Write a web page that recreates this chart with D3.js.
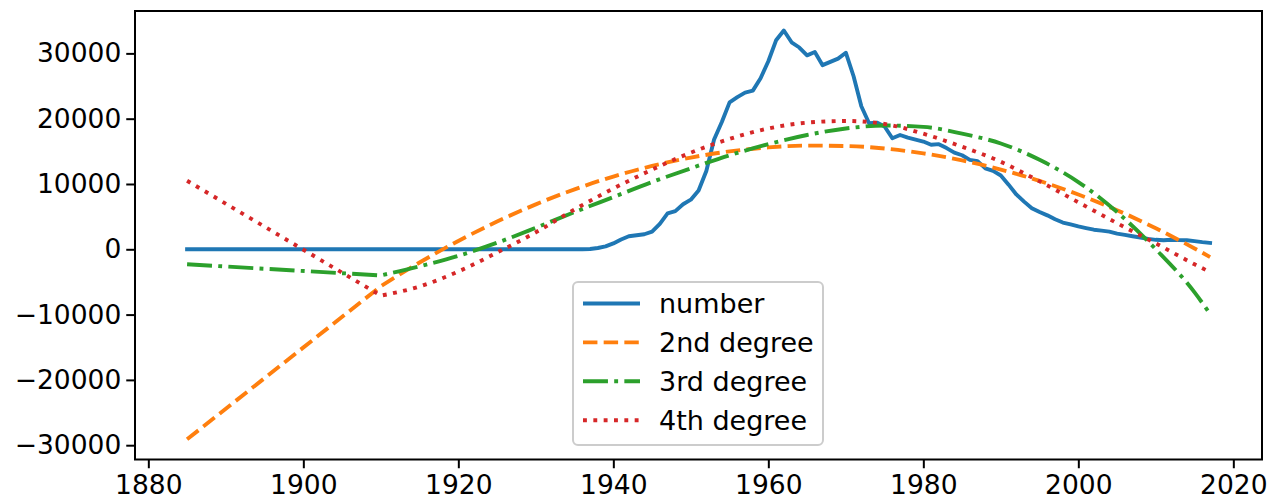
<!DOCTYPE html>
<html>
<head>
<meta charset="utf-8">
<script src="https://cdn.jsdelivr.net/npm/d3@7"></script>
<style>
  html, body { margin: 0; padding: 0; background: #ffffff; }
  svg { display: block; }
</style>
</head>
<body>
<svg id="chart" width="1273" height="503"></svg>
<script>
// ---------------- data ----------------
const numberYears = [1885, 1910, 1915, 1920, 1925, 1930,
  1935, 1936, 1937, 1938, 1939, 1940, 1941, 1942, 1943, 1944, 1945, 1946, 1947, 1948, 1949,
  1950, 1951, 1952, 1953, 1954, 1955, 1956, 1957, 1958, 1959, 1960, 1961, 1962, 1963, 1964,
  1965, 1966, 1967, 1968, 1969, 1970, 1971, 1972, 1973, 1974, 1975, 1976, 1977, 1978, 1979,
  1980, 1981, 1982, 1983, 1984, 1985, 1986, 1987, 1988, 1989, 1990, 1991, 1992, 1993, 1994,
  1995, 1996, 1997, 1998, 1999, 2000, 2001, 2002, 2003, 2004, 2005, 2006, 2007, 2008, 2009,
  2010, 2011, 2012, 2013, 2014, 2015, 2016, 2017];
const numberValues = [0, 0, 0, 0, 0, 0,
  0, 0, 50, 200, 450, 900, 1500, 2000, 2150, 2300, 2700, 3900, 5500, 5850, 6900,
  7600, 9000, 12000, 16800, 19500, 22500, 23300, 24000, 24300, 26200, 28800, 32000, 33500, 31700, 30900,
  29700, 30200, 28200, 28700, 29200, 30100, 26500, 21900, 19300, 19400, 18800, 17000, 17500, 17100, 16800,
  16500, 16000, 16100, 15500, 14800, 14400, 13700, 13500, 12400, 12000, 11300, 9900, 8400, 7300, 6300,
  5700, 5200, 4600, 4100, 3800, 3500, 3250, 3000, 2850, 2700, 2400, 2200, 2000, 1800, 1600,
  1450, 1380, 1450, 1400, 1380, 1250, 1100, 980];

const fitYears = [1885, 1910, 1915, 1920, 1925, 1930, 1935, 1940, 1945, 1950, 1955, 1960,
  1965, 1970, 1975, 1980, 1985, 1990, 1995, 2000, 2005, 2010, 2015, 2017];
const deg2Values = [-29100, -5660, -2020, 1280, 4250, 6880, 9180, 11140, 12760, 14050, 14990, 15610,
  15880, 15820, 15430, 14690, 13620, 12210, 10470, 8390, 5980, 3220, 130, -1200];
const deg3Values = [-2300, -4000, -2600, -1000, 1000, 3300, 5700, 8000, 10300, 12400, 14400, 16100,
  17500, 18500, 18950, 18750, 17700, 16200, 13700, 10300, 5700, 0, -6600, -9900];
const deg4Values = [10500, -7100, -5700, -3400, -500, 2600, 6100, 9300, 12200, 14800, 16900, 18500,
  19400, 19650, 19200, 17700, 15700, 13400, 10400, 7200, 4000, 900, -2300, -3500];

const seriesNames = ["number", "2nd degree", "3rd degree", "4th degree"];
const seriesColors = ["#1f77b4", "#ff7f0e", "#2ca02c", "#d62728"];

const xTicks = [1880, 1900, 1920, 1940, 1960, 1980, 2000, 2020];
const yTicks = [-30000, -20000, -10000, 0, 10000, 20000, 30000];

// ---------------- layout ----------------
const LW = 3.9;
const dashes = ["none", `${3.7*LW},${1.6*LW}`, `${6.4*LW},${1.6*LW},${1*LW},${1.6*LW}`, `${1*LW},${1.65*LW}`];
const plot = { left: 135, right: 1262, top: 11, bottom: 459.5 };
const FONT = "DejaVu Sans, Verdana, sans-serif";
const FS = 26.5;
const LFS = 27;

const svg = d3.select("#chart");

const x = d3.scaleLinear().domain([1878.28, 2023.7]).range([plot.left, plot.right]);
const y = d3.scaleLinear().domain([-32190, 36490]).range([plot.bottom, plot.top]);

const fmt = v => (v < 0 ? "\u2212" + Math.abs(v) : String(v));

// series
const seriesData = [
  numberYears.map((yr, i) => [yr, numberValues[i]]),
  fitYears.map((yr, i) => [yr, deg2Values[i]]),
  fitYears.map((yr, i) => [yr, deg3Values[i]]),
  fitYears.map((yr, i) => [yr, deg4Values[i]])
];

const linearLine = d3.line().x(d => x(d[0])).y(d => y(d[1]));
const smoothLine = d3.line().x(d => x(d[0])).y(d => y(d[1])).curve(d3.curveMonotoneX);

function pathFor(data, idx) {
  if (idx === 0) return linearLine(data);
  // first segment (gap in the data) is straight, the rest is the smooth fit
  const first = linearLine(data.slice(0, 2));
  const rest = smoothLine(data.slice(1));
  return first + "L" + rest.substring(1);
}

svg.append("clipPath").attr("id", "plotclip")
  .append("rect")
  .attr("x", plot.left).attr("y", plot.top)
  .attr("width", plot.right - plot.left).attr("height", plot.bottom - plot.top);

svg.append("g").attr("clip-path", "url(#plotclip)")
  .selectAll("path")
  .data(seriesData)
  .join("path")
  .attr("d", (d, i) => pathFor(d, i))
  .attr("fill", "none")
  .attr("stroke", (d, i) => seriesColors[i])
  .attr("stroke-width", LW)
  .attr("stroke-dasharray", (d, i) => dashes[i])
  .attr("stroke-linejoin", "round")
  .attr("stroke-linecap", (d, i) => (i === 0 ? "square" : "butt"));

// axes
const xAxis = d3.axisBottom(x).tickValues(xTicks).tickFormat(fmt).tickSize(8.75).tickPadding(7);
const yAxis = d3.axisLeft(y).tickValues(yTicks).tickFormat(fmt).tickSize(8.75).tickPadding(5);

const gx = svg.append("g").attr("transform", `translate(0,${plot.bottom})`).call(xAxis);
const gy = svg.append("g").attr("transform", `translate(${plot.left},0)`).call(yAxis);

[gx, gy].forEach(g => {
  g.select(".domain").remove();
  g.selectAll(".tick line").attr("stroke", "#000").attr("stroke-width", 2);
  g.selectAll(".tick text").attr("fill", "#000")
    .style("font-family", FONT).style("font-size", FS + "px");
});

// frame
svg.append("rect")
  .attr("x", plot.left).attr("y", plot.top)
  .attr("width", plot.right - plot.left).attr("height", plot.bottom - plot.top)
  .attr("fill", "none").attr("stroke", "#000").attr("stroke-width", 2);

// legend
const legend = { x: 573, y: 282, w: 250, h: 163, rowY0: 303.5, rowStep: 38.9, hx0: 583, hx1: 640, tx: 659 };
const lg = svg.append("g");
lg.append("rect")
  .attr("x", legend.x).attr("y", legend.y)
  .attr("width", legend.w).attr("height", legend.h)
  .attr("rx", 5).attr("ry", 5)
  .attr("fill", "#ffffff").attr("fill-opacity", 0.8)
  .attr("stroke", "#cccccc").attr("stroke-width", 2);

const rows = lg.selectAll("g.row")
  .data(seriesNames)
  .join("g")
  .attr("class", "row")
  .attr("transform", (d, i) => `translate(0,${legend.rowY0 + i * legend.rowStep})`);

rows.append("line")
  .attr("x1", (d, i) => legend.hx0 + (i === 0 ? LW / 2 : 0))
  .attr("x2", (d, i) => legend.hx1 - (i === 0 ? LW / 2 : 0))
  .attr("y1", 0).attr("y2", 0)
  .attr("stroke", (d, i) => seriesColors[i])
  .attr("stroke-width", LW)
  .attr("stroke-dasharray", (d, i) => dashes[i])
  .attr("stroke-linecap", (d, i) => (i === 0 ? "square" : "butt"));

rows.append("text")
  .attr("x", legend.tx)
  .attr("y", 9.5)
  .attr("fill", "#000")
  .style("font-family", FONT)
  .style("font-size", LFS + "px")
  .text(d => d);
</script>
</body>
</html>
